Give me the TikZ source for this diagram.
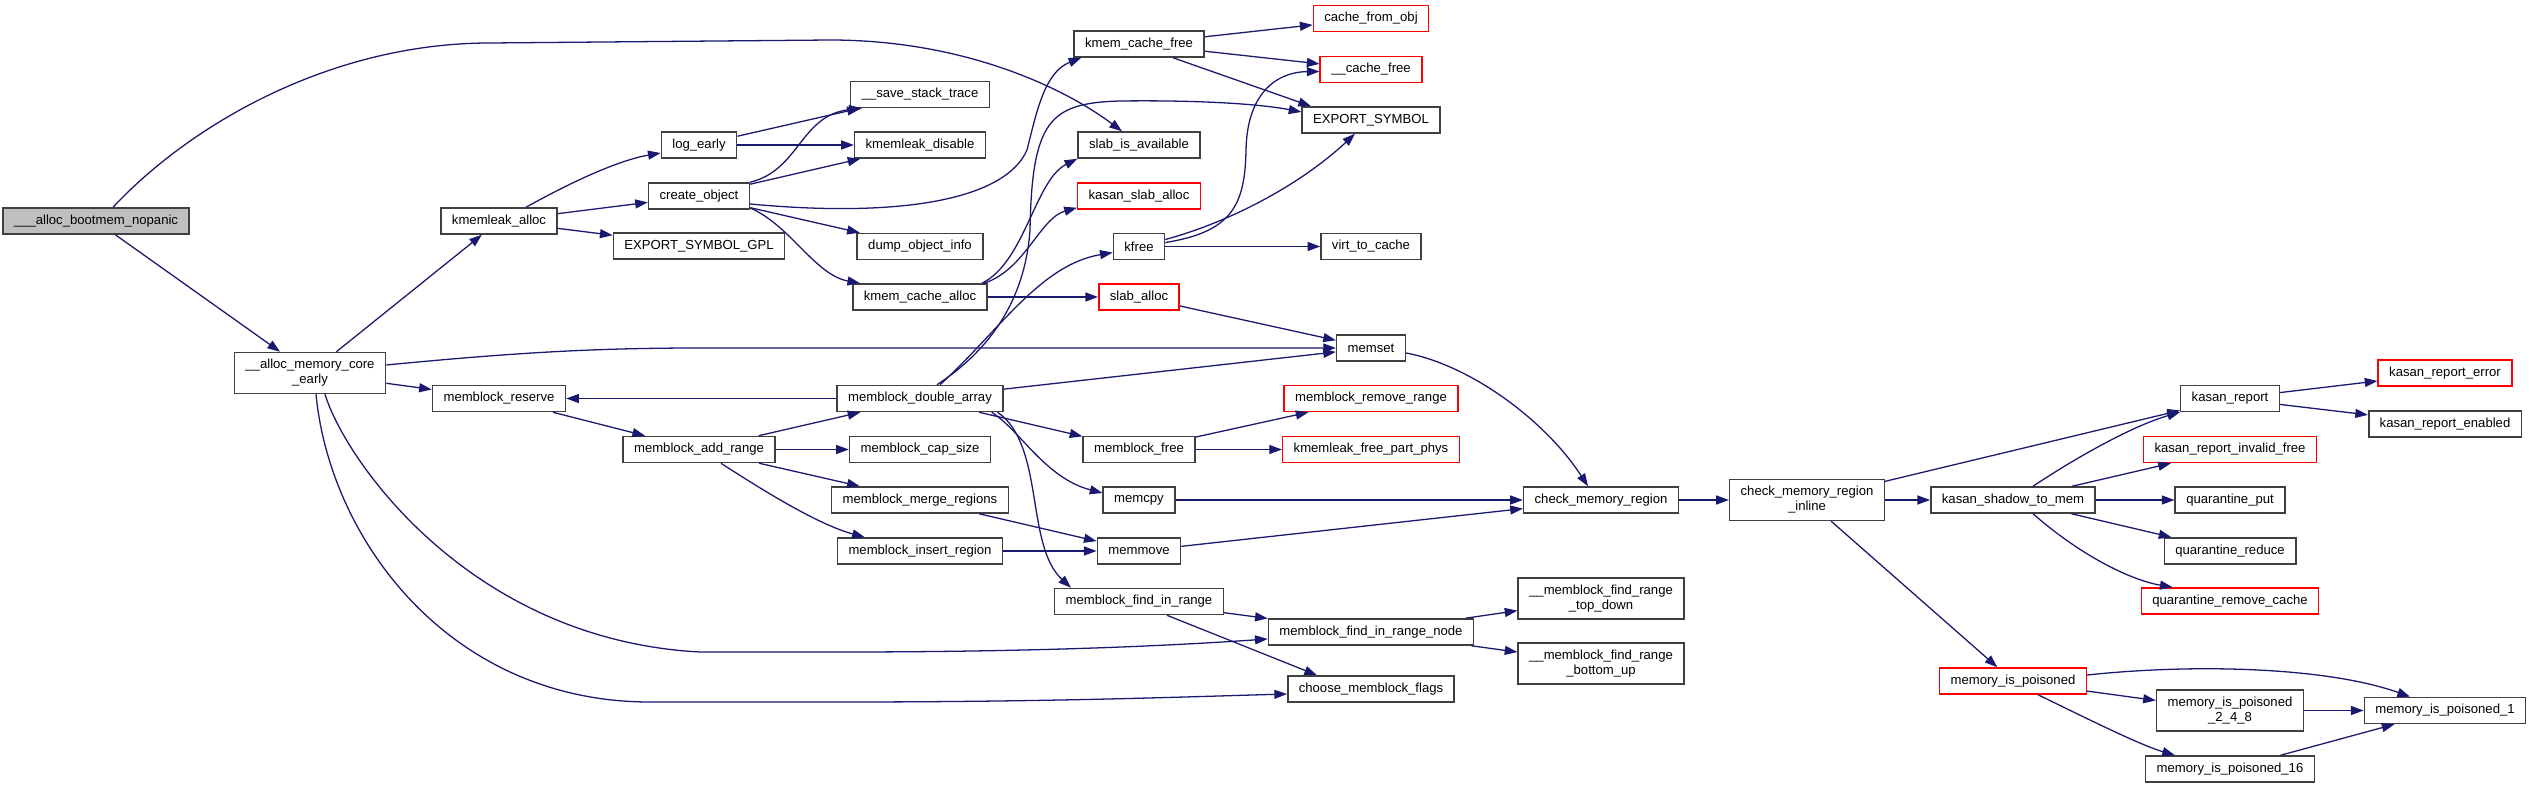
\documentclass[tikz,border=0pt]{standalone}
\usepackage{fontspec}
\setmainfont{Liberation Sans}
\usepackage{tikz}
\usetikzlibrary{arrows.meta,positioning,calc}
\definecolor{edgeblue}{HTML}{191970}
\definecolor{boxgray}{HTML}{404040}
\definecolor{rootfill}{HTML}{BFBFBF}

\begin{document}
\begin{tikzpicture}[
  x=0.03cm, y=-0.03cm,
  font=\fontsize{11.2pt}{12.8pt}\selectfont,
  fn/.style={draw=boxgray, line width=1.3pt, fill=white, align=center, inner xsep=0.33cm, inner ysep=0pt, minimum height=0.78cm},
  fnred/.style={fn, draw=red},
  fnroot/.style={fn, fill=rootfill},
  fntwo/.style={fn, minimum height=1.23cm},
  arr/.style={-{Triangle[length=0.38cm,width=0.27cm]}, line width=1.1pt, draw=edgeblue}
]
\useasboundingbox (0,0) rectangle (2529,788);
\node[fnroot] (root) at (96,221) {\_\_\_alloc\_bootmem\_nopanic};
\node[fntwo] (amce) at (310,373) {\_\_alloc\_memory\_core\\\_early};
\node[fn] (kla) at (499,221) {kmemleak\_alloc};
\node[fn] (mres) at (499,398.5) {memblock\_reserve};
\node[fn] (loge) at (699,145) {log\_early};
\node[fn] (crobj) at (699,196) {create\_object};
\node[fn] (esgpl) at (699,246) {EXPORT\_SYMBOL\_GPL};
\node[fn] (madd) at (699,449.5) {memblock\_add\_range};
\node[fn] (sst) at (920,94.5) {\_\_save\_stack\_trace};
\node[fn] (kdis) at (920,145) {kmemleak\_disable};
\node[fn] (doi) at (920,246.5) {dump\_object\_info};
\node[fn] (kca) at (920,297) {kmem\_cache\_alloc};
\node[fn] (mdbl) at (920,398.5) {memblock\_double\_array};
\node[fn] (mcap) at (920,449.5) {memblock\_cap\_size};
\node[fn] (mmrg) at (920,500) {memblock\_merge\_regions};
\node[fn] (mins) at (920,551) {memblock\_insert\_region};
\node[fn] (kcf) at (1139,44) {kmem\_cache\_free};
\node[fn] (sia) at (1139,145) {slab\_is\_available};
\node[fnred] (ksa) at (1139,196) {kasan\_slab\_alloc};
\node[fn] (kfr) at (1139,246.5) {kfree};
\node[fnred] (sla) at (1139,297) {slab\_alloc};
\node[fn] (mfree) at (1139,449.5) {memblock\_free};
\node[fn] (mcpy) at (1139,500) {memcpy};
\node[fn] (mmov) at (1139,551) {memmove};
\node[fn] (mfir) at (1139,601.5) {memblock\_find\_in\_range};
\node[fnred] (cfo) at (1371,18.5) {cache\_from\_obj};
\node[fnred] (cfr) at (1371,69.5) {\_\_cache\_free};
\node[fn] (exps) at (1371,120) {EXPORT\_SYMBOL};
\node[fn] (v2c) at (1371,246.5) {virt\_to\_cache};
\node[fn] (mset) at (1371,348) {memset};
\node[fnred] (mrr) at (1371,398.5) {memblock\_remove\_range};
\node[fnred] (kfpp) at (1371,449.5) {kmemleak\_free\_part\_phys};
\node[fn] (mfirn) at (1371,632) {memblock\_find\_in\_range\_node};
\node[fn] (cmf) at (1371,689) {choose\_memblock\_flags};
\node[fn] (cmr) at (1601,500) {check\_memory\_region};
\node[fntwo] (ftd) at (1601,598.5) {\_\_memblock\_find\_range\\\_top\_down};
\node[fntwo] (fbu) at (1601,663.5) {\_\_memblock\_find\_range\\\_bottom\_up};
\node[fntwo] (cmri) at (1807,500) {check\_memory\_region\\\_inline};
\node[fn] (ksm) at (2013,500) {kasan\_shadow\_to\_mem};
\node[fnred] (mip) at (2013,681) {memory\_is\_poisoned};
\node[fn] (kr) at (2230,398.5) {kasan\_report};
\node[fnred] (krif) at (2230,449.5) {kasan\_report\_invalid\_free};
\node[fn] (qput) at (2230,500) {quarantine\_put};
\node[fn] (qred) at (2230,551) {quarantine\_reduce};
\node[fnred] (qrc) at (2230,601) {quarantine\_remove\_cache};
\node[fntwo] (mip248) at (2230,710.5) {memory\_is\_poisoned\\\_2\_4\_8};
\node[fn] (mip16) at (2230,769) {memory\_is\_poisoned\_16};
\node[fnred] (kre) at (2445,373) {kasan\_report\_error};
\node[fn] (kren) at (2445,424) {kasan\_report\_enabled};
\node[fn] (mip1) at (2445,710.5) {memory\_is\_poisoned\_1};
\draw[arr] ($(root.north)+(17,0)$) .. controls (190,125) and (330,43) .. (490,43) -- (830,40) .. controls (960,40) and (1060,85) .. ($(sia.north)+(-17,0)$);
\draw[arr] (root) -- (amce);
\draw[arr] (amce) -- (kla);
\draw[arr] ($(amce.east)+(0,-8)$) .. controls (520,352) and (600,348) .. (700,348) -- (mset);
\draw[arr] (amce) -- (mres);
\draw[arr] ($(amce.south)+(15,0)$) .. controls (345,460) and (470,640) .. (700,652) -- (840,652) .. controls (1050,652) and (1180,645) .. ($(mfirn.west)+(0,7)$);
\draw[arr] ($(amce.south)+(6,0)$) .. controls (330,540) and (450,702) .. (650,702) -- (840,702) .. controls (1050,702) and (1180,697) .. ($(cmf.west)+(0,5)$);
\draw[arr] ($(kla.north)+(27,0)$) .. controls (575,180) and (620,160) .. ($(loge.west)+(0,8)$);
\draw[arr] (kla) -- (crobj);
\draw[arr] (kla) -- (esgpl);
\draw[arr] (loge) -- (sst);
\draw[arr] (loge) -- (kdis);
\draw[arr] (crobj.north east) .. controls (800,170) and (800,115) .. ($(sst.south west)+(12,0)$);
\draw[arr] (crobj) -- (kdis);
\draw[arr] ($(crobj.east)+(0,8)$) .. controls (900,218) and (1005,200) .. (1027,150) .. controls (1037,110) and (1045,72) .. ($(kcf.south west)+(8,0)$);
\draw[arr] (crobj) -- (doi);
\draw[arr] ($(crobj.east)+(0,12)$) .. controls (790,225) and (815,275) .. ($(kca.north west)+(8,0)$);
\draw[arr] ($(kca.north east)+(-6,0)$) .. controls (1025,262) and (1035,180) .. (sia.south west);
\draw[arr] ($(kca.north east)+(-4,0)$) .. controls (1025,270) and (1040,218) .. ($(ksa.south west)+(0,-2)$);
\draw[arr] (kca) -- (sla);
\draw[arr] (mdbl) -- (mres);
\draw[arr] ($(mdbl.north)+(17,0)$) .. controls (990,350) and (1025,300) .. (1030,230) .. controls (1032,120) and (1050,103) .. (1120,101) .. controls (1200,100) and (1260,104) .. ($(exps.west)+(0,-8)$);
\draw[arr] ($(mdbl.north)+(20,0)$) .. controls (1000,330) and (1040,265) .. ($(kfr.west)+(0,6)$);
\draw[arr] (mdbl) -- (mset);
\draw[arr] (mdbl) -- (mfree);
\draw[arr] ($(mdbl.south east)+(-12,0)$) .. controls (1020,430) and (1045,478) .. ($(mcpy.west)+(0,-7)$);
\draw[arr] ($(mdbl.south east)+(-6,0)$) .. controls (1045,445) and (1025,545) .. ($(mfir.north west)+(17,0)$);
\draw[arr] (mres) -- (madd);
\draw[arr] (madd) -- (mdbl);
\draw[arr] (madd) -- (mcap);
\draw[arr] (madd) -- (mmrg);
\draw[arr] ($(madd.south)+(22,0)$) .. controls (770,495) and (820,525) .. ($(mins.north west)+(28,0)$);
\draw[arr] (mmrg) -- (mmov);
\draw[arr] (mins) -- (mmov);
\draw[arr] (mmov) -- (cmr);
\draw[arr] (mcpy) -- (cmr);
\draw[arr] ($(mset.east)+(0,5)$) .. controls (1470,365) and (1545,420) .. ($(cmr.north)+(-13,0)$);
\draw[arr] (mfree) -- (mrr);
\draw[arr] (mfree) -- (kfpp);
\draw[arr] (mfir) -- (mfirn);
\draw[arr] ($(mfir.south)+(28,0)$) -- ($(cmf.north)+(-54,0)$);
\draw[arr] (mfirn) -- (ftd);
\draw[arr] (mfirn) -- (fbu);
\draw[arr] (kcf) -- (cfo);
\draw[arr] (kcf) -- (cfr);
\draw[arr] ($(kcf.south)+(34,0)$) -- ($(exps.north)+(-60,0)$);
\draw[arr] ($(kfr.east)+(0,-4)$) .. controls (1232,232) and (1245,205) .. (1246,150) .. controls (1247,95) and (1275,72) .. ($(cfr.west)+(0,2)$);
\draw[arr] ($(kfr.east)+(0,-7)$) .. controls (1230,222) and (1300,185) .. ($(exps.south)+(-16,0)$);
\draw[arr] (kfr) -- (v2c);
\draw[arr] (sla) -- (mset);
\draw[arr] (cmr) -- (cmri);
\draw[arr] (cmri) -- (kr);
\draw[arr] (cmri) -- (ksm);
\draw[arr] (cmri) -- (mip);
\draw[arr] ($(ksm.north)+(20,0)$) .. controls (2080,455) and (2135,425) .. (kr.south west);
\draw[arr] (ksm) -- (krif);
\draw[arr] (ksm) -- (qput);
\draw[arr] (ksm) -- (qred);
\draw[arr] ($(ksm.south)+(20,0)$) .. controls (2080,555) and (2130,580) .. ($(qrc.north west)+(32,0)$);
\draw[arr] (kr) -- (kre);
\draw[arr] (kr) -- (kren);
\draw[arr] ($(mip.east)+(0,-6)$) .. controls (2200,663) and (2330,668) .. ($(mip1.north)+(-35,0)$);
\draw[arr] (mip) -- (mip248);
\draw[arr] ($(mip.south)+(25,0)$) .. controls (2090,720) and (2140,745) .. ($(mip16.north west)+(30,0)$);
\draw[arr] (mip248) -- (mip1);
\draw[arr] (mip16) -- (mip1);
\end{tikzpicture}
\end{document}
